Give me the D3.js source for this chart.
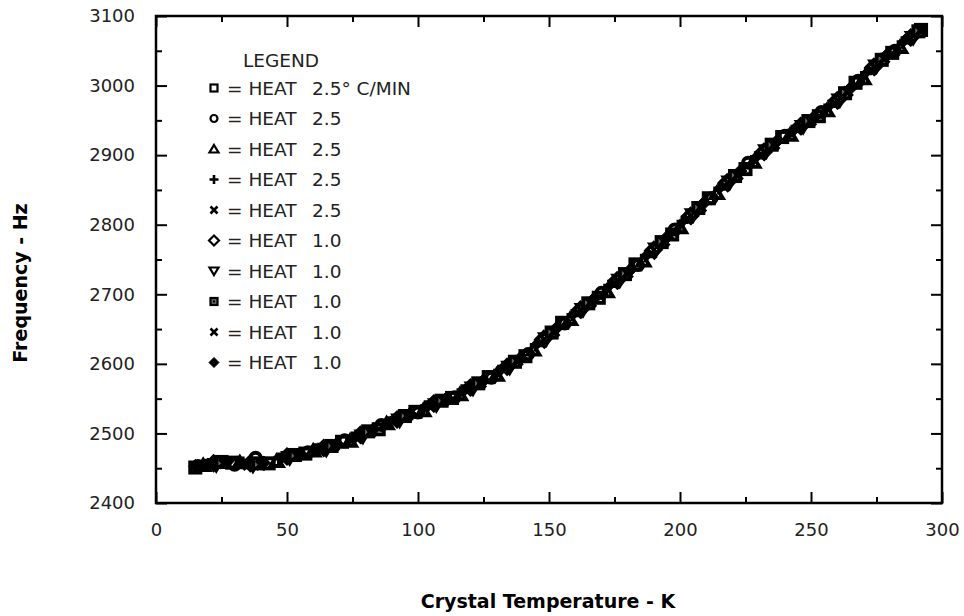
<!DOCTYPE html>
<html>
  <head>
    <meta charset="utf-8">
    <title>Crystal frequency vs temperature</title>
    <script src="https://d3js.org/d3.v7.min.js"></script>
    <style>
      body { margin: 0; background: #fff; }
      text { font-family: "DejaVu Sans", Verdana, sans-serif; }
    </style>
  </head>
  <body>
    <script>
    // data: [temperature K, frequency Hz], one array per run
    var heat1 = [[15,2451],[29,2458],[43,2457],[57,2471],[71,2488],[85,2506],[99,2531],[113,2551],[127,2581],[141,2611],[155,2659],[169,2695],[183,2743],[197,2786],[211,2838],[225,2880],[239,2926],[253,2956],[267,3004],[281,3047],[292,3080]]
    var heat2 = [[16,2453],[30,2455],[38,2465],[58,2473],[72,2490],[86,2512],[100,2530],[114,2552],[128,2580],[142,2614],[156,2658],[170,2702],[184,2742],[198,2793],[212,2838],[226,2889],[240,2928],[254,2962],[268,3007],[282,3050]]
    var heat3 = [[18,2454],[32,2458],[46,2460],[60,2475],[74,2489],[88,2514],[102,2533],[116,2556],[130,2584],[144,2620],[158,2664],[172,2704],[186,2748],[200,2796],[214,2845],[228,2890],[242,2929],[256,2964],[270,3010],[284,3055]]
    var heat4 = [[19,2455],[33,2458],[47,2464],[61,2477],[75,2494],[89,2516],[103,2539],[117,2562],[131,2590],[145,2627],[159,2670],[173,2712],[187,2755],[201,2804],[215,2852],[229,2897],[243,2935],[257,2971],[271,3018],[285,3062]]
    var heat5 = [[21,2456],[35,2455],[49,2464],[63,2476],[77,2493],[91,2517],[105,2539],[119,2562],[133,2592],[147,2630],[161,2673],[175,2715],[189,2758],[203,2808],[217,2855],[231,2900],[245,2937],[259,2974],[273,3022],[287,3065]]
    var heat6 = [[22,2457],[36,2457],[50,2467],[64,2479],[78,2498],[92,2520],[106,2543],[120,2566],[134,2596],[148,2636],[162,2678],[176,2720],[190,2764],[204,2813],[218,2861],[232,2905],[246,2942],[260,2979],[274,3027],[288,3069]]
    var heat7 = [[23,2455],[37,2454],[51,2465],[65,2477],[79,2496],[93,2519],[107,2541],[121,2565],[135,2595],[149,2636],[163,2678],[177,2720],[191,2765],[205,2814],[219,2861],[233,2906],[247,2941],[261,2979],[275,3028],[289,3069]]
    var heat8 = [[25,2459],[39,2457],[53,2469],[67,2482],[81,2503],[95,2525],[109,2547],[123,2572],[137,2603],[151,2645],[165,2687],[179,2729],[193,2775],[207,2824],[221,2870],[235,2915],[249,2949],[263,2989],[277,3037],[291,3078]]
    var heat9 = [[26,2457],[40,2455],[54,2468],[68,2482],[82,2502],[96,2525],[110,2547],[124,2572],[138,2604],[152,2646],[166,2688],[180,2730],[194,2776],[208,2825],[222,2871],[236,2915],[250,2949],[264,2991],[278,3039],[292,3079]]
    var heat10 = [[15,2453],[27,2459],[41,2458],[55,2471],[69,2485],[83,2506],[97,2528],[111,2551],[125,2576],[139,2608],[153,2652],[167,2693],[181,2735],[195,2782],[209,2831],[223,2877],[237,2920],[251,2954],[265,2996],[279,3044]]

    var runs = [heat1, heat2, heat3, heat4, heat5, heat6, heat7, heat8, heat9, heat10]
    var markers = ["square", "circle", "triangle", "plus", "cross", "diamond", "triangleDown", "dotSquare", "cross", "filledDiamond"]
    var rates = ["2.5\u00b0 C/MIN", "2.5", "2.5", "2.5", "2.5", "1.0", "1.0", "1.0", "1.0", "1.0"]

    var xTicks = [0, 50, 100, 150, 200, 250, 300]
    var xMinor = [25, 75, 125, 175, 225, 275]
    var yTicks = [2400, 2500, 2600, 2700, 2800, 2900, 3000, 3100]
    var yMinor = [2450, 2550, 2650, 2750, 2850, 2950, 3050]

    var width = 964,
        height = 616,
        padL = 156, padR = 942, padT = 16, padB = 503

    var x = d3.scaleLinear().domain([0, 300]).range([padL, padR])
    var y = d3.scaleLinear().domain([2400, 3100]).range([padB, padT])

    var svg = d3.select("body").append("svg")
                .attr("width", width)
                .attr("height", height)

    // marker shapes; k scales the size, w is the line weight, fill for open marks
    function shape(g, kind, k, w, fill) {
      var s = 4.5 * k
      if (kind == "square") {
        g.append("rect").attr("x", -s + 1).attr("y", -s + 1).attr("width", 2*s - 2).attr("height", 2*s - 2)
          .attr("fill", fill).attr("stroke", "#000").attr("stroke-width", w)
      } else if (kind == "dotSquare") {
        g.append("rect").attr("x", -s + 1).attr("y", -s + 1).attr("width", 2*s - 2).attr("height", 2*s - 2)
          .attr("fill", "#666").attr("stroke", "#000").attr("stroke-width", w)
        g.append("rect").attr("x", -1).attr("y", -1).attr("width", 2).attr("height", 2).attr("fill", "#000")
      } else if (kind == "circle") {
        g.append("circle").attr("r", s - 1)
          .attr("fill", fill).attr("stroke", "#000").attr("stroke-width", w)
      } else if (kind == "triangle") {
        g.append("path").attr("d", "M0," + (-4*k) + "L" + s + "," + (3.5*k) + "L" + (-s) + "," + (3.5*k) + "Z")
          .attr("fill", fill).attr("stroke", "#000").attr("stroke-width", w)
      } else if (kind == "triangleDown") {
        g.append("path").attr("d", "M0," + (4*k) + "L" + s + "," + (-3.5*k) + "L" + (-s) + "," + (-3.5*k) + "Z")
          .attr("fill", fill).attr("stroke", "#000").attr("stroke-width", w)
      } else if (kind == "diamond" || kind == "filledDiamond") {
        var r = 5 * k
        g.append("path").attr("d", "M0," + (-r) + "L" + r + ",0L0," + r + "L" + (-r) + ",0Z")
          .attr("fill", kind == "diamond" ? fill : "#000").attr("stroke", "#000")
          .attr("stroke-width", kind == "diamond" ? w : 1)
      } else if (kind == "plus") {
        g.append("path").attr("d", "M" + (-s) + ",0H" + s + "M0," + (-s) + "V" + s)
          .attr("stroke", "#000").attr("stroke-width", w + 0.4)
      } else if (kind == "cross") {
        var c = 3.5 * k
        g.append("path").attr("d", "M" + (-c) + "," + (-c) + "L" + c + "," + c + "M" + c + "," + (-c) + "L" + (-c) + "," + c)
          .attr("stroke", "#000").attr("stroke-width", w + 0.4)
      }
    }

    // axes: ticks point inward on all four sides
    function clean(g) {
      g.select(".domain").remove()
      g.selectAll(".tick line").attr("stroke", "#000").attr("stroke-width", 2)
      g.selectAll(".tick text").attr("fill", "#222").style("font-size", "18px")
    }

    svg.append("g").attr("transform", "translate(0," + padB + ")")
      .call(d3.axisBottom(x).tickValues(xTicks).tickSize(-11).tickPadding(20).tickFormat(d3.format("d")))
      .call(clean)
    svg.append("g").attr("transform", "translate(0," + padB + ")")
      .call(d3.axisBottom(x).tickValues(xMinor).tickSize(-6).tickFormat(""))
      .call(clean)
    svg.append("g").attr("transform", "translate(0," + padT + ")")
      .call(d3.axisTop(x).tickValues(xTicks).tickSize(-11).tickFormat(""))
      .call(clean)
    svg.append("g").attr("transform", "translate(0," + padT + ")")
      .call(d3.axisTop(x).tickValues(xMinor).tickSize(-6).tickFormat(""))
      .call(clean)

    svg.append("g").attr("transform", "translate(" + padL + ",0)")
      .call(d3.axisLeft(y).tickValues(yTicks).tickSize(-11).tickPadding(21).tickFormat(d3.format("d")))
      .call(clean)
    svg.append("g").attr("transform", "translate(" + padL + ",0)")
      .call(d3.axisLeft(y).tickValues(yMinor).tickSize(-6).tickFormat(""))
      .call(clean)
    svg.append("g").attr("transform", "translate(" + padR + ",0)")
      .call(d3.axisRight(y).tickValues(yTicks).tickSize(-11).tickFormat(""))
      .call(clean)
    svg.append("g").attr("transform", "translate(" + padR + ",0)")
      .call(d3.axisRight(y).tickValues(yMinor).tickSize(-6).tickFormat(""))
      .call(clean)

    svg.append("rect")
      .attr("x", padL).attr("y", padT)
      .attr("width", padR - padL).attr("height", padB - padT)
      .attr("fill", "none").attr("stroke", "#000").attr("stroke-width", 2.5)

    // data points - heavy open marks that pile into a solid band
    runs.forEach(function(run, i) {
      svg.append("g").selectAll("g")
        .data(run)
        .enter()
        .append("g")
        .attr("transform", function(d) { return "translate(" + x(d[0]) + "," + y(d[1]) + ")" })
        .each(function() { shape(d3.select(this), markers[i], 1.35, 3.9, "none") })
    })

    // legend
    svg.append("text")
      .attr("x", 243).attr("y", 67)
      .attr("fill", "#222").style("font-size", "18.5px")
      .text("LEGEND")

    var legend = svg.append("g").selectAll("g")
      .data(rates)
      .enter()
      .append("g")
      .attr("transform", function(d, i) { return "translate(214," + (88 + i * 30.5) + ")" })

    legend.each(function(d, i) { shape(d3.select(this), markers[i], 1, 2.2, "#fff") })

    legend.append("text")
      .attr("x", 13).attr("y", 6.5)
      .attr("fill", "#222").style("font-size", "18.5px")
      .text("= HEAT")

    legend.append("text")
      .attr("x", 98).attr("y", 6.5)
      .attr("fill", "#222").style("font-size", "18.5px")
      .text(function(d) { return d })

    // axis titles
    svg.append("text")
      .attr("x", 548).attr("y", 608)
      .attr("text-anchor", "middle")
      .style("font-size", "19px").style("font-weight", "bold")
      .text("Crystal Temperature - K")

    svg.append("text")
      .attr("transform", "translate(27,283) rotate(-90)")
      .attr("text-anchor", "middle")
      .style("font-size", "19px").style("font-weight", "bold")
      .text("Frequency - Hz")
    </script>
  </body>
</html>
